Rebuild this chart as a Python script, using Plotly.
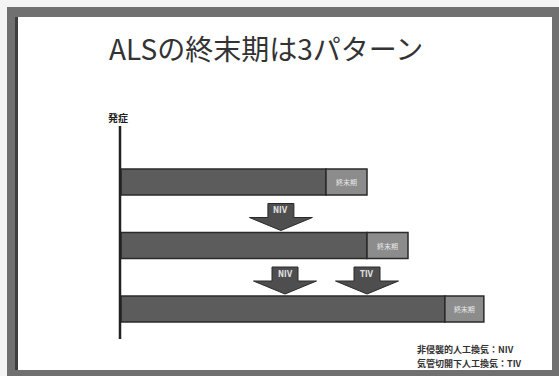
import plotly.graph_objects as go

# ---- data -------------------------------------------------------------
title_text = "ALSの終末期は3パターン"
onset_label = "発症"
terminal_label = "終末期"

rows = [0, 1, 2]                       # three disease courses
progression = [5.0, 6.0, 7.9]          # time from onset to end stage
terminal = [1.0, 1.0, 0.95]            # length of the end stage

event_row = [1, 2, 2]                  # course on which ventilation starts
event_time = [3.9, 4.0, 6.0]           # when ventilation starts
event_label = ["NIV", "NIV", "TIV"]

note_lines = ["非侵襲的人工換気：NIV", "気管切開下人工換気：TIV"]

# ---- geometry / style ---------------------------------------------------
W, H = 559, 376
PX_X = 41.0        # pixels per time unit
ORIGIN_X = 121.0   # pixel column of onset
PX_Y = 63.5        # pixels between courses
ROW0_Y = 182.0     # pixel row of first course

BAR_H = 26 / PX_Y
FONT = "Noto Sans CJK JP"

def dx(px):
    return px / PX_X

def dy(px):
    return px / PX_Y

fig = go.Figure()

# progression bars
fig.add_trace(go.Bar(
    y=rows, x=progression, base=[0] * len(rows), orientation="h",
    width=BAR_H, marker=dict(color="#5c5c5c", line=dict(color="#2a2a2a", width=1.5)),
    hoverinfo="skip", showlegend=False,
))

# end-stage segments
fig.add_trace(go.Bar(
    y=rows, x=terminal, base=progression, orientation="h",
    width=BAR_H, marker=dict(color="#8c8c8c", line=dict(color="#2a2a2a", width=1.5)),
    text=[terminal_label] * len(rows), textposition="inside",
    insidetextanchor="middle", textangle=0,
    textfont=dict(family=FONT, size=7, color="#e8e8e8"),
    hoverinfo="skip", showlegend=False,
))

# ventilation arrows pointing down onto the course they change
annotations = []
for r, t, lab in zip(event_row, event_time, event_label):
    top_of_bar = r - BAR_H / 2
    tip = top_of_bar - dy(2)
    shoulder = top_of_bar - dy(15)
    top = top_of_bar - dy(29)
    sw, hw = dx(13), dx(31.5)
    xs = [t - sw, t + sw, t + sw, t + hw, t, t - hw, t - sw, t - sw]
    ys = [top, top, shoulder, shoulder, tip, shoulder, shoulder, top]
    fig.add_trace(go.Scatter(
        x=xs, y=ys, mode="lines", fill="toself", fillcolor="#4e4e4e",
        line=dict(color="#2a2a2a", width=1), hoverinfo="skip", showlegend=False,
    ))
    annotations.append(dict(
        x=t, y=(top + shoulder) / 2, xref="x", yref="y", text=f"<b>{lab}</b>",
        showarrow=False, font=dict(family="DejaVu Sans Condensed", size=8, color="#dcdcdc"),
    ))

# slide frame, onset axis line
shapes = [
    dict(type="rect", xref="paper", yref="paper", x0=7 / W, x1=1, y0=0, y1=1 - 7 / H,
         fillcolor="#707070", line=dict(width=0), layer="below"),
    dict(type="rect", xref="paper", yref="paper", x0=15 / W, x1=18 / W, y0=1 - 370 / H, y1=1 - 17 / H,
         fillcolor="#3e3e3e", line=dict(width=0), layer="below"),
    dict(type="rect", xref="paper", yref="paper", x0=18 / W, x1=552 / W, y0=1 - 370 / H, y1=1 - 17 / H,
         fillcolor="#ffffff", line=dict(width=0), layer="below"),
    dict(type="line", xref="x", yref="y", x0=-dx(1), x1=-dx(1),
         y0=dy(126 - ROW0_Y), y1=dy(339 - ROW0_Y), line=dict(color="#222222", width=2.5)),
]

annotations.append(dict(
    x=-dx(3), y=dy(117 - ROW0_Y), xref="x", yref="y", text=f"<b>{onset_label}</b>",
    showarrow=False, font=dict(family=FONT, size=10, color="#222222"),
))

# title
annotations.append(dict(
    x=266 / W, y=1 - 48 / H, xref="paper", yref="paper", text=title_text,
    showarrow=False, xanchor="center", yanchor="middle",
    font=dict(family=FONT, size=28, color="#333333"),
))

# abbreviation notes
for i, line in enumerate(note_lines):
    annotations.append(dict(
        x=415 / W, y=1 - (349 + 14 * i) / H, xref="paper", yref="paper", text=f"<b>{line}</b>",
        showarrow=False, xanchor="left", yanchor="middle",
        font=dict(family=FONT, size=9, color="#333333"),
    ))

fig.update_layout(
    width=W, height=H, margin=dict(l=0, r=0, t=0, b=0),
    paper_bgcolor="#f4f4f4", plot_bgcolor="rgba(0,0,0,0)",
    barmode="overlay", shapes=shapes, annotations=annotations,
    xaxis=dict(range=[-ORIGIN_X / PX_X, (W - ORIGIN_X) / PX_X], visible=False, fixedrange=True),
    yaxis=dict(range=[(H - ROW0_Y) / PX_Y, -ROW0_Y / PX_Y], visible=False, fixedrange=True),
    uniformtext=dict(mode="show", minsize=6),
)

fig.write_html("out.html")
